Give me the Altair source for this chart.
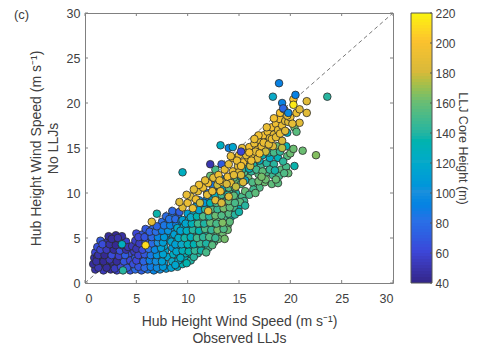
import altair as alt
import pandas as pd

# (observed speed, no-LLJ speed, core height), read off the picture by region
indigo_cloud = [
(1.0,1.5,48),(1.8,1.4,52),(2.5,1.5,45),(3.1,1.4,58),(3.8,1.6,62),(4.4,1.4,66),
(0.8,2.1,44),(1.4,2.0,46),(2.1,2.2,42),(2.8,2.0,50),(3.4,2.2,64),(4.0,2.1,72),(4.6,2.3,70),
(0.9,2.8,46),(1.5,2.7,42),(2.2,2.9,54),(2.9,2.8,48),(3.5,2.7,76),(4.2,2.9,58),
(1.0,3.4,60),(1.7,3.3,44),(2.4,3.5,72),(3.0,3.3,52),(3.7,3.5,46),(4.3,3.3,62),
(1.2,4.0,64),(1.9,3.9,48),(2.6,4.1,44),(3.2,3.9,58),(3.8,4.1,42),
(1.5,4.7,68),(2.2,4.6,46),(2.9,4.7,42),(3.4,4.5,50),(4.0,4.6,56),
(2.3,5.2,44),(3.0,5.3,42),(3.6,5.2,46),(1.2,3.0,42),(2.6,2.4,46),(3.2,1.9,70),
(1.3,1.7,50),(2.1,1.7,44),(2.9,1.6,54),(3.5,1.8,60),(4.1,1.7,68),(1.1,2.4,46),(1.8,2.4,42),
(2.4,2.6,50),(3.1,2.4,44),(3.8,2.4,66),(4.4,2.5,60),(1.3,3.1,48),(1.9,3.1,42),(2.6,3.1,62),
(3.3,3.0,56),(3.9,3.1,70),(1.5,3.7,58),(2.1,3.7,52),(2.8,3.7,44),(3.4,3.6,64),(4.0,3.7,48),
(1.7,4.3,62),(2.4,4.3,46),(3.0,4.2,42),(3.6,4.2,54),(4.2,4.0,50),(2.6,4.9,44),(3.2,5.0,48),
]
blue_cloud = [
(4.9,1.5,78),(5.5,1.4,72),(6.1,1.5,84),(6.7,1.4,92),(7.3,1.5,98),(7.9,1.6,104),
(4.7,2.1,64),(5.3,2.2,80),(5.9,2.0,58),(6.5,2.2,88),(7.1,2.1,102),(7.7,2.2,108),
(4.9,2.8,70),(5.5,2.7,50),(6.1,2.9,84),(6.8,2.8,96),(7.4,2.7,106),(8.0,2.9,116),
(4.8,3.5,54),(5.4,3.4,46),(6.0,3.6,76),(6.6,3.4,92),(7.2,3.5,110),(7.8,3.6,118),
(4.6,4.1,52),(5.2,4.0,58),(5.8,4.2,64),(6.4,4.0,90),(7.0,4.2,104),(7.7,4.1,118),
(4.9,4.7,56),(5.5,4.8,62),(6.1,4.7,74),(6.7,4.8,84),(7.3,4.7,104),(7.9,4.8,112),
(5.0,5.5,60),(5.6,5.4,68),(6.2,5.5,72),(6.8,5.3,82),(7.4,5.4,88),(8.0,5.5,108),
(5.9,6.0,68),(6.6,6.0,76),(7.2,6.1,82),(7.8,6.0,90),(8.4,6.1,100),
(7.5,6.8,80),(8.1,6.7,86),(8.7,6.8,94),(7.9,7.4,78),(8.5,7.5,84),(9.1,7.3,80),
(8.5,8.0,76),(9.2,7.9,70),(9.0,6.2,116),(8.6,5.2,118),
(5.2,1.8,66),(5.8,1.7,78),(6.4,1.8,88),(7.0,1.7,96),(7.6,1.8,106),(5.0,2.5,60),(5.7,2.4,74),
(6.3,2.5,90),(6.9,2.4,98),(7.5,2.4,110),(5.2,3.1,58),(5.8,3.2,68),(6.4,3.1,86),(7.0,3.1,104),
(7.6,3.2,114),(5.0,3.8,50),(5.6,3.7,62),(6.2,3.8,80),(6.8,3.7,94),(7.4,3.9,112),(5.3,4.4,54),
(5.9,4.5,70),(6.5,4.4,78),(7.1,4.5,100),(7.6,4.5,110),(5.2,5.1,58),(5.8,5.1,66),(6.5,5.1,76),
(7.1,5.1,92),(7.7,5.1,106),(6.3,5.7,72),(6.9,5.7,80),(7.5,5.8,90),(8.1,5.8,102),(7.0,6.3,74),
(7.7,6.4,84),(8.3,6.4,92),(8.9,6.5,90),(8.2,7.1,82),(8.8,7.1,78),(9.4,6.9,96),
]
teal_cloud = [
(8.4,1.7,112),(9.0,1.8,122),(9.5,2.1,132),(8.5,2.4,120),(9.1,2.5,118),(9.8,2.6,128),(10.3,2.5,138),
(8.6,3.2,124),(9.2,3.1,116),(9.8,3.3,130),(10.4,3.2,132),(11.0,3.3,142),(8.5,3.9,108),(9.1,3.9,122),
(9.7,4.0,126),(10.3,3.9,136),(10.9,4.0,126),(11.5,4.1,140),(12.0,3.9,146),(8.4,4.6,116),(9.0,4.7,128),
(9.6,4.6,132),(10.2,4.7,138),(10.8,4.6,142),(11.4,4.8,130),(12.0,4.7,148),(12.6,4.6,150),(8.7,5.4,112),
(9.3,5.5,126),(9.9,5.4,134),(10.5,5.5,146),(11.1,5.4,150),(11.7,5.6,136),(12.3,5.5,156),(12.9,5.4,154),
(13.4,5.5,160),(9.0,6.1,122),(9.6,6.2,118),(10.2,6.1,136),(10.8,6.3,144),(11.4,6.2,150),(12.0,6.3,140),
(12.6,6.2,160),(13.2,6.3,148),(13.9,6.4,158),(13.9,5.9,160),(9.5,7.0,110),(10.1,7.0,128),(10.7,7.0,140),
(11.3,7.1,156),(11.9,7.0,148),(12.5,7.1,162),(13.1,7.0,156),(13.7,7.2,150),(14.2,7.3,132),(10.0,7.7,112),
(10.6,7.8,122),(11.2,7.8,146),(11.8,7.9,158),(12.4,7.8,144),(13.0,7.9,160),(13.6,7.9,166),(14.3,8.0,146),
(10.8,8.5,108),(11.4,8.5,96),(12.0,8.6,150),(12.6,8.6,160),(13.2,8.6,136),(13.8,8.7,152),(14.4,8.8,140),
(11.1,9.2,98),(11.8,9.2,90),(12.4,9.3,118),(13.0,9.4,156),(13.6,9.4,146),(14.2,9.5,158),(14.8,9.3,140),
(11.9,10.0,84),(12.5,10.1,112),(13.1,10.1,140),(13.7,10.2,162),(14.3,10.2,150),(14.7,10.0,138),
(12.4,10.9,86),(13.0,10.8,130),(13.6,10.9,148),(14.2,11.0,118),(14.9,11.2,160),(15.3,9.6,150),
(13.2,11.6,92),(13.8,11.6,120),(14.5,11.7,156),(15.2,11.8,126),(15.9,11.7,160),(14.8,12.3,132),
(15.5,12.3,150),(16.2,12.4,142),(16.6,11.0,158),(17.0,10.6,152),(16.4,10.4,148),(17.5,11.2,160),
(15.0,8.6,130),(15.5,9.1,146),(13.3,13.2,70),(12.2,11.9,158),(12.7,12.6,150),(15.7,13.0,128),
(16.4,13.1,136),(17.1,12.9,146),(17.0,13.6,124),(17.7,13.3,140),(16.9,12.1,154),(17.7,12.3,150),
(18.3,12.0,146),(17.6,11.5,160),(18.2,11.0,156),(16.5,14.2,126),(17.3,14.2,130),
(18.8,13.9,130),(18.4,13.2,140),(19.1,12.6,155),(19.6,12.9,150),(19.8,12.2,158),(18.9,11.9,150),
(18.8,11.1,155),(20.4,13.0,135),(19.7,14.1,155),(20.0,14.4,160),(20.3,14.9,160),(21.2,14.7,160),
(22.5,14.2,165),(18.7,15.2,160),(19.7,16.7,125),(20.4,17.3,160),(20.6,16.8,155),
(8.8,2.0,116),(9.3,2.8,124),(9.9,2.2,134),(10.6,2.9,140),(8.9,3.5,118),(9.5,3.6,128),(10.1,3.5,134),
(10.7,3.6,144),(11.3,3.6,136),(11.8,3.4,150),(8.8,4.3,112),(9.4,4.3,120),(10.0,4.3,130),(10.6,4.3,132),
(11.2,4.4,146),(11.8,4.4,138),(12.4,4.2,154),(13.0,4.9,158),(13.6,4.9,162),(9.1,5.0,122),(9.7,5.0,136),
(10.3,5.1,128),(10.9,5.0,148),(11.5,5.1,142),(12.1,5.1,152),(12.7,5.0,146),(9.3,5.8,114),(9.9,5.8,126),
(10.5,5.9,140),(11.1,5.8,134),(11.7,6.0,152),(12.3,5.9,144),(12.9,5.9,162),(13.5,6.0,152),(14.1,6.8,156),
(9.8,6.6,116),(10.4,6.6,130),(11.0,6.6,148),(11.6,6.6,138),(12.2,6.7,158),(12.8,6.6,150),(13.4,6.7,164),
(14.0,7.7,154),(14.6,7.6,140),(10.3,7.3,120),(10.9,7.4,134),(11.5,7.4,152),(12.1,7.4,140),(12.7,7.5,160),
(13.3,7.5,152),(14.5,8.4,148),(15.0,7.9,136),(11.1,8.1,112),(11.7,8.2,140),(12.3,8.2,154),(12.9,8.2,146),
(13.5,8.3,162),(14.1,8.4,156),(15.1,9.0,154),(11.6,8.9,104),(12.2,8.9,134),(12.8,8.9,152),(13.4,9.0,140),
(14.0,9.1,160),(14.6,8.9,150),(12.7,9.7,126),(13.3,9.8,150),(13.9,9.8,138),(14.5,9.7,156),(15.6,8.6,140),
(13.4,10.5,118),(14.0,10.6,156),(14.6,10.6,144),(15.6,10.2,158),(16.0,9.8,150),(16.6,10.0,156),(14.1,11.4,136),
(15.2,11.0,148),(15.6,11.4,120),(16.3,11.2,152),(16.9,11.3,160),(15.3,12.6,140),(16.0,12.7,130),(16.7,12.6,148),
(17.3,12.4,156),(17.2,11.8,162),(18.0,12.6,144),(18.5,12.5,136),(18.6,11.5,158),(19.4,12.2,152),(19.3,13.5,142),
(18.0,13.9,122),(17.9,14.5,136),(18.4,14.5,150),(19.0,14.6,144),(19.6,15.2,132),
]
gold_band = [
(9.5,8.4,185),(10.0,8.9,190),(10.3,9.6,182),(10.8,9.3,195),(11.0,10.2,188),(11.5,10.6,192),
(11.2,8.9,178),(11.9,9.8,186),(12.0,11.1,196),(12.4,10.2,190),(12.5,11.7,184),(12.9,10.9,178),
(13.0,12.0,194),(13.4,11.2,186),(13.6,12.6,190),(13.9,11.8,196),(14.0,13.2,188),(14.4,12.4,192),
(14.4,13.9,198),(14.9,13.0,186),(15.0,14.2,192),(15.4,13.4,196),(15.5,14.7,186),(15.9,13.9,190),
(16.0,15.1,196),(16.3,14.3,184),(16.5,15.5,190),(16.8,14.8,198),(17.0,15.9,186),(17.2,15.2,192),
(17.4,16.4,196),(17.6,15.6,188),(17.8,16.8,192),(18.0,16.1,184),(18.2,17.3,198),(18.4,16.5,190),
(18.6,17.7,192),(18.8,17.0,186),(19.0,18.2,196),(19.2,17.5,190),(19.5,18.0,186),(19.0,18.9,198),
(19.8,17.9,182),(20.0,18.4,192),(19.2,15.8,180),(19.2,15.0,175),(18.3,15.2,182),(17.6,14.6,178),
(15.0,12.3,184),(14.2,11.1,188),(13.2,10.2,192),(12.7,9.2,186),(16.1,13.0,178),(16.8,13.8,184),
(15.4,11.2,182),(12.0,8.0,186),(13.3,8.9,180),(14.0,9.6,184),(14.7,10.7,176),(10.5,8.3,190),
(20.9,17.8,185),(21.6,18.9,185),(21.6,20.2,185),(20.3,20.4,200),
(14.8,13.6,190),(15.2,13.0,194),(15.7,14.2,188),(16.2,13.6,192),(16.6,14.6,186),(17.0,14.4,194),(17.4,15.6,190),
(17.9,15.4,186),(18.2,16.0,194),(18.6,16.2,188),(19.0,16.6,192),(19.5,16.9,184),(19.7,18.6,194),(20.2,17.7,188),
(20.6,18.9,190),(20.9,19.3,186),(19.4,19.3,200),(18.4,18.3,196),(17.7,17.3,190),(16.9,16.4,194),(16.0,14.5,196),
(15.2,12.0,180),(14.5,12.0,186),(13.8,11.0,180),(13.1,11.4,190),(11.7,11.4,188),(11.1,10.9,194),(10.6,10.4,186),
(9.9,9.8,190),(9.2,9.0,184),(16.5,16.0,192),(15.3,15.0,188),(14.2,14.1,190),
]
outliers = [
(3.7,1.4,140),(3.6,4.3,125),(5.9,4.2,210),(7.0,7.7,135),(6.5,6.8,188),(9.5,12.3,125),
(12.2,13.2,50),(13.2,15.3,125),(14.0,15.0,90),(14.4,15.1,115),(15.2,14.6,60),
(18.9,22.2,90),(18.3,20.7,120),(23.6,20.7,140),(20.5,20.9,90),(19.2,20.0,90),
(19.3,19.4,75),(19.8,18.9,95),(20.3,19.8,215),
]
groups = [indigo_cloud, blue_cloud, teal_cloud, gold_band, outliers]

ticks = [0, 5, 10, 15, 20, 25, 30]
bar_ticks = [40, 60, 80, 100, 120, 140, 160, 180, 200, 220]
bar_steps = list(range(40, 220, 2))
diagonal = [0, 30]
height_colors = ["#33278c", "#3c46d8", "#2a6fe6", "#1b90dc", "#0aaac8",
                 "#28b59f", "#6bbd72", "#d9b93a", "#fbc22e", "#f9f80e"]

FONT = "Liberation Sans"
INK = "#404040"
EDGE = "#808080"

df = pd.DataFrame([p for g in groups for p in g], columns=["obs", "none", "h"])
xs = alt.Scale(domain=[0, 30], nice=False)
ys = alt.Scale(domain=[0, 30], nice=False)
cs = alt.Scale(domain=bar_ticks, range=height_colors)
tick_df = pd.DataFrame({"t": ticks})

x_axis = alt.Axis(values=ticks, grid=False, ticks=False, domain=False, labelPadding=9, labelAngle=0,
                  title=["Hub Height Wind Speed (m s⁻¹)", "Observed LLJs"], titlePadding=10, titleFontWeight="normal")
y_axis = alt.Axis(values=ticks, grid=False, ticks=False, domain=False, labelPadding=5,
                  title=["Hub Height Wind Speed (m s⁻¹)", "No LLJs"], titlePadding=6, titleFontWeight="normal")
bar_axis = alt.Axis(orient="right", offset=39, values=bar_ticks, grid=False, ticks=False, domain=False,
                    labelOverlap=False, labelPadding=3, labelFontSize=12, title="LLJ Core Height (m)", titlePadding=0,
                    titleFontWeight="normal", titleFontSize=12.5)

line = alt.Chart(pd.DataFrame({"a": diagonal})).mark_line(color="#555555", strokeWidth=0.8, strokeDash=[4, 3]).encode(
    x=alt.X("a:Q", scale=xs, axis=x_axis), y=alt.Y("a:Q", scale=ys, axis=y_axis))
dots = alt.Chart(df).mark_circle(size=58, opacity=1, stroke="#2b2b2b", strokeWidth=0.8).encode(
    x=alt.X("obs:Q", scale=xs, axis=x_axis), y=alt.Y("none:Q", scale=ys, axis=y_axis),
    color=alt.Color("h:Q", scale=cs, legend=None))
tb = alt.Chart(tick_df).mark_rule(color=EDGE, strokeWidth=1).encode(x=alt.X("t:Q", scale=xs, axis=x_axis), y=alt.value(267), y2=alt.value(270))
tt = alt.Chart(tick_df).mark_rule(color=EDGE, strokeWidth=1).encode(x=alt.X("t:Q", scale=xs, axis=x_axis), y=alt.value(0), y2=alt.value(3))
tl = alt.Chart(tick_df).mark_rule(color=EDGE, strokeWidth=1).encode(y=alt.Y("t:Q", scale=ys, axis=y_axis), x=alt.value(0), x2=alt.value(3))
tr = alt.Chart(tick_df).mark_rule(color=EDGE, strokeWidth=1).encode(y=alt.Y("t:Q", scale=ys, axis=y_axis), x=alt.value(305), x2=alt.value(308))
label = alt.Chart(pd.DataFrame({"s": ["(c)"]})).mark_text(font=FONT, fontSize=13, color=INK, align="left", baseline="middle").encode(
    x=alt.value(-71), y=alt.value(2), text="s:N")
main = alt.layer(line, dots, tb, tt, tl, tr, label)

bs = alt.Scale(domain=[40, 220], nice=False)
bar_df = pd.DataFrame({"h": bar_steps, "h2": [min(b + 3, 220) for b in bar_steps]})
bar = alt.Chart(bar_df).mark_rect().encode(
    x=alt.value(326), x2=alt.value(347),
    y=alt.Y("h:Q", scale=bs, axis=bar_axis),
    y2="h2:Q", color=alt.Color("h:Q", scale=cs, legend=None))
frame = alt.Chart(pd.DataFrame({"lo": [40], "hi": [220]})).mark_rect(fill=None, stroke="#555555", strokeWidth=1).encode(
    x=alt.value(326), x2=alt.value(347), y=alt.Y("lo:Q", scale=bs, axis=bar_axis), y2="hi:Q")
bar_marks = alt.Chart(pd.DataFrame({"t": bar_ticks})).mark_rule(color="#555555").encode(
    y=alt.Y("t:Q", scale=bs, axis=bar_axis), x=alt.value(345), x2=alt.value(347))
colorbar = alt.layer(bar, frame, bar_marks)

chart = alt.layer(main, colorbar).resolve_scale(y="independent").properties(
    width=308, height=270,
    autosize=alt.AutoSizeParams(type="none"),
    padding={"left": 77, "top": 5, "right": 77, "bottom": 62},
).configure_view(stroke=EDGE, strokeWidth=1).configure_axis(
    labelFont=FONT, titleFont=FONT, labelFontSize=12.5, titleFontSize=14, labelColor=INK, titleColor=INK, titleLineHeight=17)

chart.save("out.html", embed_options={"renderer": "svg", "actions": False})
